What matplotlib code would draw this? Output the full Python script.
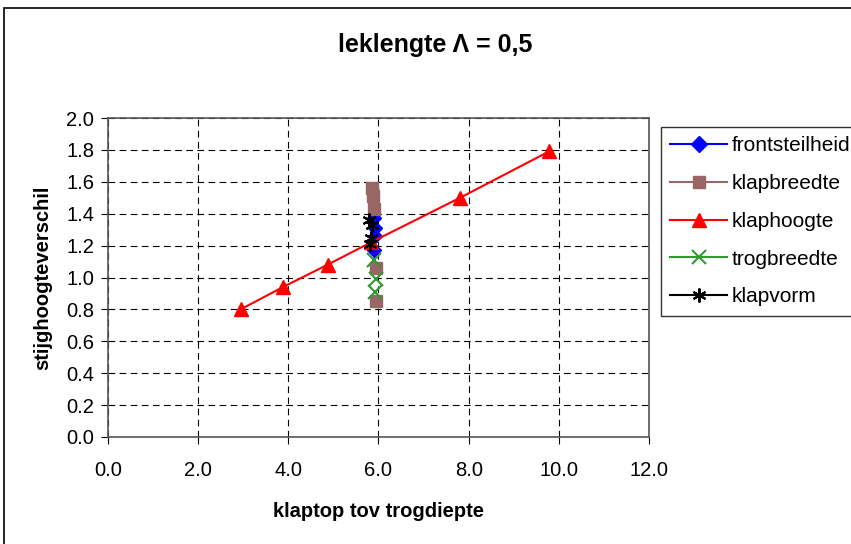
import matplotlib.pyplot as plt
from matplotlib.lines import Line2D
from matplotlib.patches import Rectangle

plt.rcParams['font.family'] = ['Liberation Sans', 'DejaVu Sans']

# series
front_x = [5.90, 5.92, 5.92, 5.90]
front_y = [1.37, 1.31, 1.26, 1.17]

breed_x = [5.85, 5.88, 5.90, 5.95, 5.95]
breed_y = [1.56, 1.51, 1.43, 1.06, 0.85]

hoog_x = [2.94, 3.88, 4.87, 5.83, 7.81, 9.78]
hoog_y = [0.80, 0.94, 1.08, 1.22, 1.50, 1.79]

trog_x = [5.90, 5.95, 5.92]
trog_y = [1.11, 0.99, 0.91]

vorm_x = [5.80, 5.85, 5.84, 5.82]
vorm_y = [1.36, 1.33, 1.25, 1.21]

names = ['frontsteilheid', 'klapbreedte', 'klaphoogte', 'trogbreedte', 'klapvorm']

W, H = 851, 544
fig = plt.figure(figsize=(W / 100, H / 100), dpi=100)

# outer chart border
fig.patches.append(Rectangle((4 / W, -0.1), 1.2, 1 - 8 / H + 0.1, transform=fig.transFigure,
                             fill=False, edgecolor='black', linewidth=1.2))

ax = fig.add_axes([108 / W, (H - 437) / H, (649 - 108) / W, (437 - 118) / H])

ax.plot(front_x, front_y, linestyle='none', marker='D', color='#0000ff', markersize=7, zorder=3)
ax.plot(breed_x, breed_y, linestyle='none', marker='s', color='#996666', markersize=8, zorder=3)
ax.plot(hoog_x, hoog_y, linestyle='-', marker='^', color='#ff0000', markersize=10, linewidth=1.5, zorder=3)
ax.plot(trog_x, trog_y, linestyle='none', marker='x', color='#339933', markersize=10,
        markeredgewidth=1.5, zorder=3)
ax.plot(vorm_x, vorm_y, linestyle='none', marker=(6, 2, 0), color='black', markersize=10,
        markeredgewidth=1.5, zorder=4)

ax.set_xlim(0, 12)
ax.set_ylim(0, 2.0)
ax.set_xticks([0, 2, 4, 6, 8, 10, 12])
ax.set_yticks([i * 0.2 for i in range(11)])
ax.set_xticklabels(['%.1f' % v for v in [0, 2, 4, 6, 8, 10, 12]])
ax.set_yticklabels(['%.1f' % (i * 0.2) for i in range(11)])
ax.tick_params(direction='out', length=5, labelsize=14.5, colors='black', pad=5)
ax.tick_params(axis='x', pad=12)
ax.grid(True, linestyle=(0, (6, 4)), color='black', linewidth=0.8)
for s in ax.spines.values():
    s.set_color('#555555')
    s.set_linewidth(1.2)

ax.set_xlabel('klaptop tov trogdiepte', fontsize=14.5, fontweight='bold', labelpad=16)
ax.set_ylabel('stijghoogteverschil', fontsize=14.5, fontweight='bold', labelpad=10)
fig.text(435 / W, 1 - 45 / H, 'leklengte Λ = 0,5', ha='center', va='center',
         fontsize=18, fontweight='bold')

handles = [
    Line2D([], [], color='#0000ff', marker='D', markersize=8),
    Line2D([], [], color='#996666', marker='s', markersize=8),
    Line2D([], [], color='#ff0000', marker='^', markersize=10),
    Line2D([], [], color='#339933', marker='x', markersize=10, markeredgewidth=1.5),
    Line2D([], [], color='black', marker=(6, 2, 0), markersize=10, markeredgewidth=1.5),
]
leg = fig.legend(handles, names, loc='upper left', bbox_to_anchor=(661 / W, 1 - 127 / H),
                 fontsize=15, frameon=True, fancybox=False, edgecolor='black',
                 handlelength=2.7, labelspacing=0.9, borderpad=0.45, handletextpad=0.25,
                 borderaxespad=0)
leg.get_frame().set_linewidth(1.0)

fig.savefig('out.png', dpi=100)
